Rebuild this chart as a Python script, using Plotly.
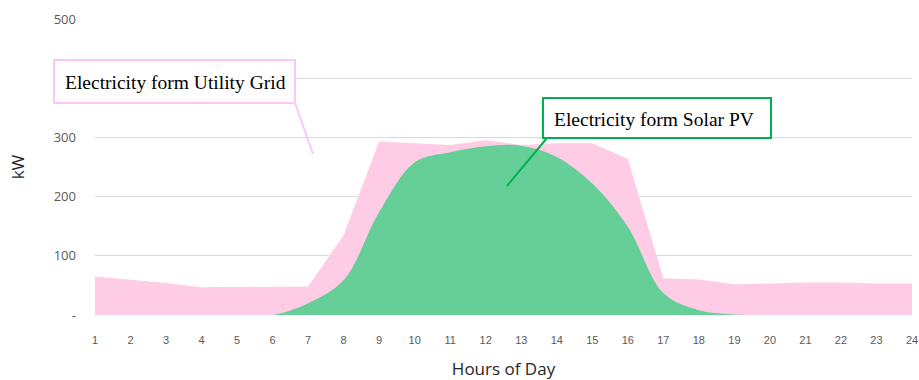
import plotly.graph_objects as go

# Hourly load profile (kW)
hours = list(range(1, 25))
grid_total = [65, 60, 54, 47, 47, 47, 48, 135, 293, 290, 287, 295,
              287, 290, 290, 264, 62, 60, 52, 53, 55, 55, 53, 53]
solar_pv = [0, 0, 0, 0, 0, 0, 20, 59, 174, 258, 275, 285,
            286, 267, 222, 149, 37, 8, 1, 0, 0, 0, 0, 0]

y_ticks = [0, 100, 200, 300, 400, 500]
# the 400 label sits under the grid callout box
y_tick_text = ["-", "100", "200", "300", "", "500"]
label_grid = "Electricity form Utility Grid"
label_solar = "Electricity form Solar PV"

W, H = 919, 380
M_L, M_R, M_T, M_B = 95, 7, 19, 65
PW, PH = W - M_L - M_R, H - M_T - M_B


def px(x):
    return (x - M_L) / PW


def py(y):
    return (H - M_B - y) / PH


PINK = "rgb(255,204,230)"
GREEN = "rgb(102,207,151)"
PINK_EDGE = "rgb(251,200,245)"
GREEN_EDGE = "rgb(0,176,80)"

fig = go.Figure()
fig.add_trace(go.Scatter(
    x=hours, y=grid_total, mode="lines", name="Utility Grid",
    line=dict(width=0, color=PINK), fill="tozeroy", fillcolor=PINK,
    hoverinfo="x+y"))
fig.add_trace(go.Scatter(
    x=hours, y=solar_pv, mode="lines", name="Solar PV",
    line=dict(width=0, color=GREEN, shape="spline", smoothing=1.0),
    fill="tozeroy", fillcolor=GREEN, hoverinfo="x+y"))

shapes = [
    # callout boxes
    dict(type="rect", xref="paper", yref="paper", layer="above",
         x0=px(54), x1=px(295), y0=py(60), y1=py(103),
         fillcolor="white", line=dict(color=PINK_EDGE, width=2)),
    dict(type="rect", xref="paper", yref="paper", layer="above",
         x0=px(543), x1=px(771), y0=py(98), y1=py(138),
         fillcolor="white", line=dict(color=GREEN_EDGE, width=2)),
    # leader lines
    dict(type="line", xref="paper", yref="paper", layer="above",
         x0=px(295), y0=py(103), x1=px(313), y1=py(154),
         line=dict(color=PINK_EDGE, width=2)),
    dict(type="line", xref="paper", yref="paper", layer="above",
         x0=px(547), y0=py(138), x1=px(507), y1=py(186),
         line=dict(color=GREEN_EDGE, width=2)),
]

serif = dict(family="Times New Roman, Liberation Serif, serif", size=19.5, color="black")
annotations = [
    dict(text=label_grid, xref="paper", yref="paper", x=px(63), y=py(82),
         xanchor="left", yanchor="middle", showarrow=False, font=serif),
    dict(text=label_solar, xref="paper", yref="paper", x=px(552), y=py(119),
         xanchor="left", yanchor="middle", showarrow=False, font=serif),
]

fig.update_layout(
    width=W, height=H, autosize=False,
    margin=dict(l=M_L, r=M_R, t=M_T, b=M_B, pad=0, autoexpand=False),
    plot_bgcolor="white", paper_bgcolor="white",
    showlegend=False,
    shapes=shapes, annotations=annotations,
    xaxis=dict(
        range=[1, 24], tickmode="array", tickvals=hours,
        ticktext=[str(h) for h in hours], automargin=False,
        showgrid=False, zeroline=False, showline=False, ticks="",
        ticklabelstandoff=17, ticklabeloverflow="allow",
        tickfont=dict(family="Arial, Liberation Sans, sans-serif", size=11, color="#595959"),
        title=dict(text="Hours of Day", standoff=19,
                   font=dict(family="Open Sans, sans-serif", size=17, color="#262626")),
    ),
    yaxis=dict(
        range=[0, 500], tickmode="array", tickvals=y_ticks, ticktext=y_tick_text,
        automargin=False,
        showgrid=True, gridcolor="#d9d9d9", gridwidth=1,
        zeroline=False, showline=False, ticks="",
        ticklabelstandoff=18,
        tickfont=dict(family="Open Sans, sans-serif", size=13, color="#595959"),
        title=dict(text="kW", standoff=24,
                   font=dict(family="Open Sans, sans-serif", size=17, color="#262626")),
    ),
)

fig.write_html("out.html")
